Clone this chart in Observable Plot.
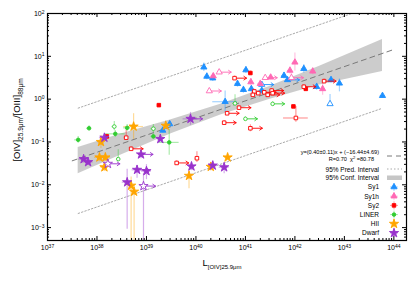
<!DOCTYPE html>
<html><head><meta charset="utf-8">
<script src="https://cdn.jsdelivr.net/npm/d3@7"></script>
<script src="https://cdn.jsdelivr.net/npm/@observablehq/plot@0.6"></script>
<style>
body{margin:0;background:#fff;}
#chart svg{font-family:"Liberation Sans",Arial,sans-serif;overflow:visible;}
</style>
</head><body><div id="chart"></div>
<script>
// ---------- data (log10 values) ----------
const groups = ["Sy1","Sy1h","Sy2","LINER","HII","Dwarf"];
const groupColors = ["#1E90FF","#FF69B4","#FF0000","#32CD32","#FFA500","#9932CC"];
const groupSymbols = ["triangle","triangle","square","circle","star","star"];

const sy1_logL = [40.16,40.22,40.34,40.84,40.59,39.47,39.33,41.01,40.96,41.12,41.33,41.33,41.78,41.85,42.18,42.44,42.73,42.90,42.71,43.77];
const sy1_logR = [0.745,0.53,0.49,0.36,-0.06,-0.58,-0.73,0.68,0.22,0.24,0.20,0.34,0.55,0.45,0.71,0.29,0.45,0.37,-0.11,0.08];
const sy1_open = [0,0,0,0,0,0,0,0,0,0,0,1,0,0,0,0,0,0,1,0];
const sy1_lim  = [0,0,0,0,0,0,0,0,0,0,0,1,0,1,0,0,0,0,0,0];
const sy1_xe   = [0.05,0.05,0.05,0.05,0.25,0.05,0.05,0.05,0.05,0.05,0.05,0,0.05,0,0.05,0.05,0.05,0.05,0,0.05];
const sy1_yeLo = [0.1,0.08,0.08,0.08,0.25,0.06,0.06,0.08,0.08,0.08,0.08,0.06,0.08,0.06,0.1,0.08,0.08,0.2,0.05,0.06];
const sy1_yeHi = [0.1,0.08,0.08,0.08,0.25,0.06,0.06,0.08,0.08,0.08,0.08,0.06,0.08,0.06,0.1,0.08,0.08,0.1,0.22,0.06];

const sy1h_logL = [40.35,40.47,40.27,41.11,41.30,41.40,41.51,41.90,42.00,42.36,42.56,41.93];
const sy1h_logR = [0.54,0.63,0.19,0.40,0.36,0.50,0.51,0.67,0.86,0.65,0.24,0.50];
const sy1h_open = [0,1,1,0,0,1,0,0,0,0,0,1];
const sy1h_lim  = [0,1,1,0,0,1,0,0,0,0,0,1];
const sy1h_xe   = [0.05,0,0,0.05,0.05,0,0.05,0.05,0.05,0.05,0.05,0];
const sy1h_yeLo = [0.06,0.05,0.05,0.08,0.08,0.05,0.06,0.08,0.2,0.08,0.15,0.1];
const sy1h_yeHi = [0.06,0.05,0.05,0.08,0.08,0.05,0.06,0.08,0.22,0.08,0.15,0.1];

const sy2_logL = [39.25,38.20,41.10,42.22,41.97,40.78,40.87,40.63,40.57,38.59,38.69,41.18,41.26,41.15,41.38,41.53,41.55,41.45,42.18,42.59,42.02,41.10,39.61,40.02];
const sy2_logR = [-0.14,-0.87,0.61,0.24,-0.17,0.49,-0.20,-0.33,-0.55,-0.90,-1.16,0.18,0.14,0.10,0.16,0.20,0.14,0.10,0.29,0.42,-0.44,-0.68,-1.49,-1.38];
const sy2_open = [0,0,0,0,0,1,1,1,1,1,1,1,1,1,1,1,1,1,1,1,1,1,1,1];
const sy2_lim  = [0,0,0,0,0,1,1,1,1,0,1,0,0,0,1,1,1,1,1,1,0,1,1,0];
const sy2_xe   = [0.03,0.04,0.04,0.04,0.03,0,0,0,0,0.04,0,0.04,0.04,0.04,0,0,0,0,0,0,0.25,0,0,0.04];
const sy2_yeLo = [0.03,0.05,0.05,0.05,0.03,0.05,0.05,0.05,0.05,0.05,0.05,0.05,0.05,0.05,0.05,0.05,0.05,0.05,0.05,0.05,0.1,0.08,0.05,0.1];
const sy2_yeHi = [0.03,0.05,0.05,0.05,0.03,0.05,0.05,0.05,0.05,0.18,0.05,0.05,0.05,0.05,0.05,0.05,0.05,0.05,0.05,0.05,0.27,0.08,0.05,0.15];

const liner_logL = [37.84,37.62,38.35,38.37,38.61,39.14,39.14,39.46,38.43,40.79,41.00,41.55];
const liner_logR = [-0.68,-0.95,-0.64,-0.81,-0.67,-0.69,-0.87,-1.01,-1.40,-0.10,-0.46,-0.11];
const liner_open = [0,0,1,0,0,1,0,0,1,1,1,1];
const liner_lim  = [0,0,0,0,0,0,0,0,0,0,1,1];
const liner_xe   = [0.05,0.07,0.05,0.2,0.07,0.05,0.05,0.2,0.03,0.05,0,0];
const liner_yeLo = [0.06,0.08,0.1,0.08,0.08,0.1,0.06,0.3,0.05,0.05,0.05,0.05];
const liner_yeHi = [0.06,0.08,0.12,0.08,0.08,0.1,0.06,0.3,0.22,0.2,0.05,0.05];

const hii_logL = [39.39,38.74,38.08,38.05,38.17,38.15,38.69,38.75,39.86,40.30,40.64];
const hii_logR = [-0.62,-0.64,-1.00,-1.36,-1.36,-1.59,-2.02,-2.16,-1.79,-1.58,-1.36];
const hii_open = [0,0,0,0,0,0,0,0,0,0,0];
const hii_lim  = [0,0,0,0,0,0,0,0,0,0,0];
const hii_xe   = [0.05,0.2,0.06,0.1,0.1,0.07,0.05,0.05,0.05,0.05,0.05];
const hii_yeLo = [0.05,0.3,0.15,0.1,0.1,0.1,2.0,2.0,0.3,0.1,0.05];
const hii_yeHi = [0.05,0.3,0.15,0.1,0.1,0.1,0.2,0.15,0.15,0.1,0.05];

const dwarf_logL = [39.89,38.15,39.28,37.73,37.82,38.22,38.89,38.81,39.00,38.61,38.94,39.91,40.34,40.57];
const dwarf_logR = [-0.46,-0.90,-0.93,-1.40,-1.47,-1.51,-1.29,-1.65,-1.68,-1.94,-2.03,-1.57,-1.55,-1.59];
const dwarf_open = [0,0,0,0,0,1,0,0,0,0,1,0,0,0];
const dwarf_lim  = [1,0,0,0,0,1,1,1,0,0,1,0,0,0];
const dwarf_xe   = [0.15,0.1,0.05,0.1,0.1,0,0.05,0.1,0.1,0.1,0,0.05,0.1,0.1];
const dwarf_yeLo = [0.15,0.05,0.05,0.05,0.05,0.05,0.1,0.2,0.2,1.1,1.5,0.1,0.1,0.15];
const dwarf_yeHi = [0.15,0.05,0.05,0.05,0.05,0.05,0.1,0.1,0.15,0.3,0.3,0.1,0.1,0.1];

// fit and intervals
const fitSlope = 0.40, fitIntercept = -16.44;
const fitLogL = [37.5, 44.0];
const predLogL = [37.62, 43.75];
const predHiLogR = [-0.21, 2.24];
const predLoLogR = [-2.67, -0.22];
const bandLogL  = [37.62, 38.5, 39.5, 40.5, 41.5, 42.5, 43.77];
const bandHiLogR = [-1.13, -0.81, -0.48, -0.12, 0.30, 0.77, 1.39];
const bandLoLogR = [-1.74, -1.30, -0.81, -0.37, 0.00, 0.33, 0.645];

const xTickExp = [37,38,39,40,41,42,43,44];
const yTickExp = [-3,-2,-1,0,1,2];

const fitText1 = "y=(0.40\u00b10.11)x + (\u221216.44\u00b14.69)";
const fitTextR = "R=0.70  ";
const fitTextChi = "=80.78";
const predLabel = "95% Pred. Interval";
const confLabel = "95% Conf. Interval";

// ---------- build tables ----------
const raw = {
  Sy1:[sy1_logL,sy1_logR,sy1_open,sy1_lim,sy1_xe,sy1_yeLo,sy1_yeHi],
  Sy1h:[sy1h_logL,sy1h_logR,sy1h_open,sy1h_lim,sy1h_xe,sy1h_yeLo,sy1h_yeHi],
  Sy2:[sy2_logL,sy2_logR,sy2_open,sy2_lim,sy2_xe,sy2_yeLo,sy2_yeHi],
  LINER:[liner_logL,liner_logR,liner_open,liner_lim,liner_xe,liner_yeLo,liner_yeHi],
  HII:[hii_logL,hii_logR,hii_open,hii_lim,hii_xe,hii_yeLo,hii_yeHi],
  Dwarf:[dwarf_logL,dwarf_logR,dwarf_open,dwarf_lim,dwarf_xe,dwarf_yeLo,dwarf_yeHi]
};
const tables = {};
for (const g of groups) {
  const [lx, ly, op, lm, xe, yl, yh] = raw[g];
  tables[g] = lx.map((v,i)=>({
    L: 10**v, R: 10**ly[i], open: !!op[i], lim: !!lm[i],
    xLo: 10**(v-xe[i]), xHi: 10**(v+xe[i]),
    yLo: 10**(ly[i]-yl[i]), yHi: 10**(ly[i]+yh[i])
  }));
}
const fitRows = fitLogL.map(v=>({L:10**v, R:10**(fitSlope*v+fitIntercept)}));
const predHiRows = predLogL.map((v,i)=>({L:10**v, R:10**predHiLogR[i]}));
const predLoRows = predLogL.map((v,i)=>({L:10**v, R:10**predLoLogR[i]}));
const bandRows = bandLogL.map((v,i)=>({L:10**v, lo:10**bandLoLogR[i], hi:10**bandHiLogR[i]}));

const xMajors = xTickExp.map(e=>10**e);
const yMajors = yTickExp.map(e=>10**e);
const xMinors = [], yMinors = [];
for (let e=37;e<=44;e++) for (let k=2;k<=9;k++) { const v=k*10**e; if (v<=1.8e44) xMinors.push(v); }
for (let e=-4;e<=1;e++) for (let k=2;k<=9;k++) { const v=k*10**e; if (v>=5e-4 && v<=100) yMinors.push(v); }

// ---------- layout ----------
const W=415, H=282, mL=47, mR=9, mT=13, mB=42;
const iW=W-mL-mR, iH=H-mT-mB;

const arrowShape = {draw(ctx, l){ ctx.moveTo(0,0); ctx.lineTo(0,-l); ctx.moveTo(-1.8,-l+2.6); ctx.lineTo(0,-l); ctx.lineTo(1.8,-l+2.6); }};
const rSize = {triangle:2.3, square:2.0, circle:1.8, star:2.9};

const marks = [
  Plot.areaY(bandRows, {x:"L", y1:"lo", y2:"hi", fill:"#c6c6c6", fillOpacity:0.9}),
  Plot.line(predHiRows, {x:"L", y:"R", stroke:"#aaaaaa", strokeWidth:1, strokeDasharray:"1.5,2", clip:true}),
  Plot.line(predLoRows, {x:"L", y:"R", stroke:"#aaaaaa", strokeWidth:1, strokeDasharray:"1.5,2", clip:true}),
  Plot.line(fitRows, {x:"L", y:"R", stroke:"#7a7a7a", strokeWidth:1, strokeDasharray:"5,4"}),
];
groups.forEach((g,gi)=>{
  const c = groupColors[gi], rows = tables[g];
  marks.push(Plot.ruleY(rows, {y:"R", x1:"xLo", x2:"xHi", stroke:c, strokeOpacity:0.4, strokeWidth:1.2, clip:true}));
  marks.push(Plot.ruleX(rows, {x:"L", y1:"yLo", y2:"yHi", stroke:c, strokeOpacity:0.4, strokeWidth:1.2, clip:true}));
});
groups.forEach((g,gi)=>{
  const c = groupColors[gi], rows = tables[g];
  marks.push(Plot.vector(rows.filter(d=>d.lim), {x:"L", y:"R", rotate:90, length:12, anchor:"start", shape:arrowShape, stroke:c, strokeWidth:0.9}));
  marks.push(Plot.dot(rows, {x:"L", y:"R", symbol:groupSymbols[gi], r:rSize[groupSymbols[gi]],
    fill: d=>d.open ? "white" : c, stroke:c, strokeWidth:0.9}));
});
marks.push(
  Plot.tickX(xMajors, {x:d=>d, insetTop:iH-4, stroke:"black"}),
  Plot.tickX(xMinors, {x:d=>d, insetTop:iH-2, stroke:"black"}),
  Plot.tickX(xMajors, {x:d=>d, insetBottom:iH-4, stroke:"black"}),
  Plot.tickX(xMinors, {x:d=>d, insetBottom:iH-2, stroke:"black"}),
  Plot.tickY(yMajors, {y:d=>d, insetRight:iW-4, stroke:"black"}),
  Plot.tickY(yMinors, {y:d=>d, insetRight:iW-2, stroke:"black"}),
  Plot.tickY(yMajors, {y:d=>d, insetLeft:iW-4, stroke:"black"}),
  Plot.tickY(yMinors, {y:d=>d, insetLeft:iW-2, stroke:"black"}),
  Plot.axisX({ticks:xMajors, tickSize:0, tickPadding:5, fontSize:7, label:null,
    tickFormat:d=>"10^"+Math.round(Math.log10(d))}),
  Plot.axisY({ticks:yMajors, tickSize:0, tickPadding:3, fontSize:7, label:null,
    tickFormat:d=>"10^"+Math.round(Math.log10(d))}),
  Plot.frame({stroke:"black", strokeWidth:1.2})
);

const plot = Plot.plot({
  width:W, height:H, marginLeft:mL, marginRight:mR, marginTop:mT, marginBottom:mB,
  x:{type:"log", domain:[1e37, 1.8e44]},
  y:{type:"log", domain:[5e-4, 100]},
  style:{background:"white", color:"black"},
  marks
});
document.getElementById("chart").appendChild(plot);

// superscripts for tick labels
const svg = d3.select(plot);
svg.selectAll("text").each(function(){
  const t = d3.select(this);
  const s = t.text();
  if (s.includes("^")) {
    const [base, ex] = s.split("^");
    t.text(null);
    t.append("tspan").text(base);
    t.append("tspan").attr("dy","-0.45em").attr("font-size","5px").text(ex.replace("-","\u2212"));
  }
});

// axis titles
const xl = svg.append("text").attr("x", 222).attr("y", 266).attr("text-anchor","middle")
  .attr("font-size","9.5px").attr("fill","black");
xl.append("tspan").text("L");
xl.append("tspan").attr("font-size","6px").attr("dy","2.5").text("[OIV]25.9\u03bcm");

const yl = svg.append("text").attr("transform","translate(20,120) rotate(-90)")
  .attr("text-anchor","middle").attr("font-size","9.5px").attr("fill","black");
yl.append("tspan").text("[OIV]");
yl.append("tspan").attr("font-size","6.5px").attr("dy","2.5").text("25.9\u03bcm");
yl.append("tspan").attr("dy","-2.5").text("/[OIII]");
yl.append("tspan").attr("font-size","6.5px").attr("dy","2.5").text("88\u03bcm");

// legend
const right = W - mR, bottom = H - mB;
const lg = svg.append("g").attr("font-size","6.5px").attr("fill","black");
const tx = right - 27, mx = right - 12;
lg.append("text").attr("x", tx).attr("y", 153.5).attr("text-anchor","end").attr("font-size","5.6px").text(fitText1);
const t2 = lg.append("text").attr("x", tx-5).attr("y", 160.5).attr("text-anchor","end").attr("font-size","5.6px");
t2.append("tspan").text(fitTextR+"\u03c7");
t2.append("tspan").attr("dy","-2").attr("font-size","4px").text("2");
t2.append("tspan").attr("dy","2").text(" "+fitTextChi);
lg.append("line").attr("x1", right-19).attr("x2", right-4).attr("y1",156).attr("y2",156)
  .attr("stroke","#7a7a7a").attr("stroke-dasharray","5,4");
lg.append("text").attr("x", tx).attr("y", 171.5).attr("text-anchor","end").text(predLabel);
lg.append("line").attr("x1", right-19).attr("x2", right-4).attr("y1",169).attr("y2",169)
  .attr("stroke","#aaaaaa").attr("stroke-dasharray","1.5,2");
lg.append("text").attr("x", tx).attr("y", 180).attr("text-anchor","end").text(confLabel);
lg.append("rect").attr("x", right-19).attr("width",15).attr("y",175.5).attr("height",4.5).attr("fill","#c6c6c6");
const symMap = {triangle:d3.symbolTriangle, square:d3.symbolSquare, circle:d3.symbolCircle, star:d3.symbolStar};
groups.forEach((g,gi)=>{
  const yy = 187 + gi*9.2;
  lg.append("text").attr("x", tx).attr("y", yy+2.3).attr("text-anchor","end").text(g);
  const c = groupColors[gi];
  lg.append("line").attr("x1",mx-4).attr("x2",mx+4).attr("y1",yy).attr("y2",yy).attr("stroke",c).attr("stroke-opacity",0.4);
  lg.append("line").attr("x1",mx).attr("x2",mx).attr("y1",yy-4).attr("y2",yy+4).attr("stroke",c).attr("stroke-opacity",0.4);
  const r = rSize[groupSymbols[gi]];
  lg.append("path").attr("transform",`translate(${mx},${yy})`)
    .attr("d", d3.symbol(symMap[groupSymbols[gi]], Math.PI*r*r)())
    .attr("fill", c).attr("stroke", c).attr("stroke-width",0.9);
});
</script></body></html>
